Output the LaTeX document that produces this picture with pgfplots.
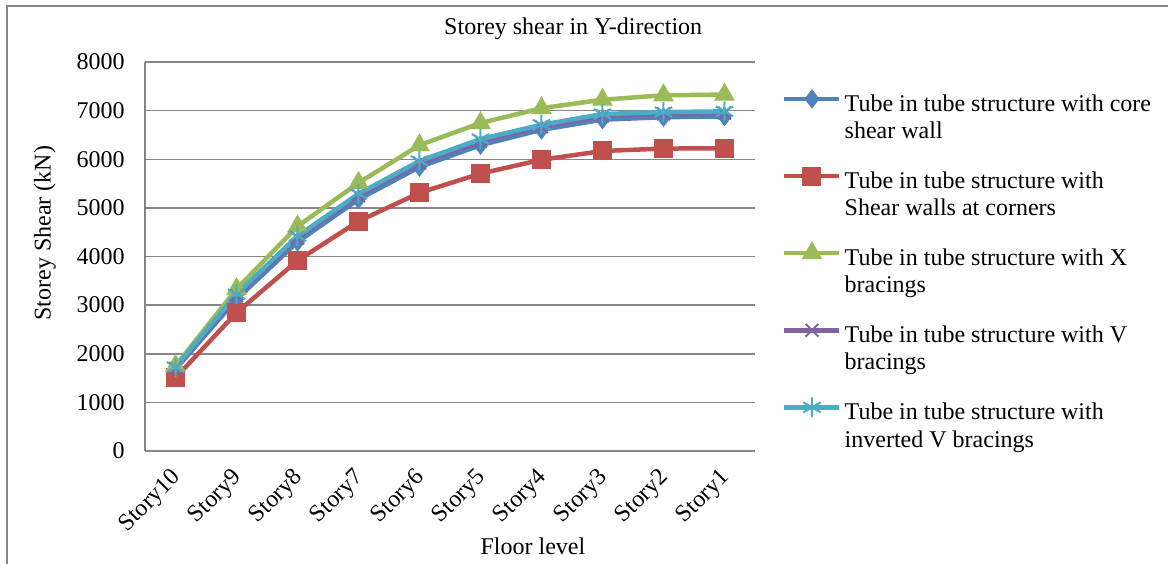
\documentclass[border=0pt]{standalone}
\usepackage{pgfplots}
\pgfplotsset{compat=1.18}
\usepackage{fontspec}
\setmainfont{Liberation Serif}

\definecolor{sBlue}{HTML}{4F81BD}
\definecolor{sRed}{HTML}{C0504D}
\definecolor{sGreen}{HTML}{9BBB59}
\definecolor{sPurple}{HTML}{8064A2}
\definecolor{sCyan}{HTML}{4BACC6}
\definecolor{gridGray}{HTML}{868686}
\newcommand\chartfont{\fontsize{12}{13.8}\selectfont}

% short line sample with the marker in its middle, level with the first text line
\pgfplotsset{
  legend image code/.code={%
    \draw[mark repeat=2,mark phase=2,#1]
      plot coordinates {(0pt,-5.8pt) (13.75pt,-5.8pt) (27.5pt,-5.8pt)};},
}

\begin{document}
\chartfont
\begin{tikzpicture}
\useasboundingbox (0,0) rectangle (584pt,281.5pt);
% chart frame
\draw[gridGray, line width=0.75pt] (3.5pt,-10pt) -- (3.5pt,278.5pt) -- (600pt,278.5pt);

\begin{axis}[
  at={(72.5pt,56pt)}, anchor=south west,
  scale only axis, width=305pt, height=194.5pt,
  xmin=-0.5, xmax=9.5, ymin=0, ymax=8000,
  xtick={0,...,9},
  xticklabels={Story10,Story9,Story8,Story7,Story6,Story5,Story4,Story3,Story2,Story1},
  ytick={0,1000,...,8000},
  scaled y ticks=false,
  /pgf/number format/1000 sep={},
  /pgf/number format/assume math mode=true,
  major tick length=0pt,
  tick style={draw=none},
  axis x line*=bottom, axis y line*=left,
  axis line style={gridGray, line width=0.75pt},
  ymajorgrids, grid style={gridGray, line width=0.75pt},
  tick label style={font=\chartfont, text=black},
  xticklabel style={rotate=45, anchor=east, inner sep=0pt, xshift=-7.5pt, yshift=-9pt},
  yticklabel style={anchor=east, inner sep=0pt, xshift=-10pt},
  title={Storey shear in Y-direction},
  title style={font=\chartfont, at={(axis description cs:0.702,1.054)}, anchor=center},
  xlabel={Floor level},
  xlabel style={font=\chartfont, at={(axis description cs:0.636,-0.244)}, anchor=center},
  ylabel={Storey Shear (kN)},
  ylabel style={font=\chartfont, at={(axis description cs:-0.164,0.560)}, anchor=center},
  legend style={draw=none, fill=none, font=\chartfont,
    at={(axis description cs:1.044,0.936)}, anchor=north west,
    inner sep=0pt, row sep=9.1pt, column sep=-0.5pt,
    cells={anchor=north west, align=left, inner sep=0pt}},
]
\addplot[sBlue, line width=2.25pt, mark=diamond*, mark size=4.5pt,
  mark options={solid, line width=0.5pt}] coordinates {
  (0,1680) (1,3120) (2,4300) (3,5175) (4,5840)
  (5,6290) (6,6605) (7,6815) (8,6865) (9,6880)};
\addlegendentry{\strut Tube in tube structure with core\\shear wall\strut}

\addplot[sRed, line width=2.25pt, mark=square*, mark size=4.5pt,
  mark options={solid, line width=0.5pt}] coordinates {
  (0,1505) (1,2845) (2,3915) (3,4725) (4,5310)
  (5,5705) (6,5990) (7,6170) (8,6220) (9,6225)};
\addlegendentry{\strut Tube in tube structure with\\Shear walls at corners\strut}

\addplot[sGreen, line width=2.25pt, mark=triangle*, mark size=5.5pt,
  mark options={solid, line width=0.5pt}] coordinates {
  (0,1750) (1,3330) (2,4620) (3,5515) (4,6290)
  (5,6745) (6,7050) (7,7225) (8,7315) (9,7330)};
\addlegendentry{\strut Tube in tube structure with X\\bracings\strut}

\addplot[sPurple, line width=2.25pt, mark=x, mark size=4.5pt,
  mark options={solid, line width=1pt}] coordinates {
  (0,1700) (1,3190) (2,4380) (3,5250) (4,5920)
  (5,6370) (6,6670) (7,6890) (8,6935) (9,6950)};
\addlegendentry{\strut Tube in tube structure with V\\bracings\strut}

\addplot[sCyan, line width=2.25pt, mark=asterisk, mark size=5pt,
  mark options={solid, line width=1pt}] coordinates {
  (0,1725) (1,3225) (2,4420) (3,5290) (4,5965)
  (5,6415) (6,6710) (7,6930) (8,6970) (9,6985)};
\addlegendentry{\strut Tube in tube structure with\\inverted V bracings\strut}
\end{axis}
\end{tikzpicture}
\end{document}
